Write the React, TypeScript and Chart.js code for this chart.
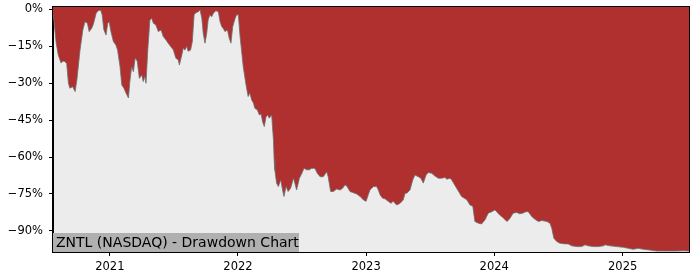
import React, { useEffect, useRef } from "react";
import { Chart, registerables } from "chart.js";

Chart.register(...registerables);

const dates: string[] = [
  "2020-07-23","2020-07-26","2020-08-01","2020-08-07","2020-08-15","2020-08-20","2020-08-26","2020-08-31",
  "2020-09-05","2020-09-09","2020-09-17","2020-09-24","2020-09-29","2020-10-08","2020-10-16","2020-10-22",
  "2020-10-29","2020-11-03","2020-11-10","2020-11-15","2020-11-23","2020-11-29","2020-12-06","2020-12-10",
  "2020-12-15","2020-12-21","2020-12-26","2020-12-30","2021-01-04","2021-01-11","2021-01-18","2021-01-23",
  "2021-01-30","2021-02-04","2021-02-10","2021-02-16","2021-02-23","2021-02-27","2021-03-04","2021-03-09",
  "2021-03-14","2021-03-20","2021-03-26","2021-04-02","2021-04-06","2021-04-11","2021-04-14","2021-04-19",
  "2021-04-25","2021-04-30","2021-05-05","2021-05-12","2021-05-19","2021-05-27","2021-06-02","2021-06-10",
  "2021-06-16","2021-06-23","2021-07-01","2021-07-08","2021-07-15","2021-07-18","2021-07-25","2021-07-29",
  "2021-08-03","2021-08-08","2021-08-12","2021-08-19","2021-08-24","2021-08-29","2021-09-03","2021-09-10",
  "2021-09-15","2021-09-20","2021-09-24","2021-09-29","2021-10-04","2021-10-08","2021-10-13","2021-10-18",
  "2021-10-23","2021-10-30","2021-11-06","2021-11-11","2021-11-16","2021-11-20","2021-11-25","2021-12-02",
  "2021-12-07","2021-12-12","2021-12-17","2021-12-24","2021-12-28","2022-01-02","2022-01-07","2022-01-12",
  "2022-01-16","2022-01-24","2022-01-30","2022-02-04","2022-02-09","2022-02-14","2022-02-18","2022-02-25",
  "2022-03-03","2022-03-08","2022-03-12","2022-03-17","2022-03-22","2022-03-27","2022-03-31","2022-04-07",
  "2022-04-12","2022-04-14","2022-04-16","2022-04-21","2022-04-26","2022-05-03","2022-05-08","2022-05-12",
  "2022-05-18","2022-05-24","2022-05-31","2022-06-08","2022-06-12","2022-06-17","2022-06-25","2022-07-02",
  "2022-07-08","2022-07-16","2022-07-23","2022-07-30","2022-08-08","2022-08-15","2022-08-23","2022-09-01",
  "2022-09-11","2022-09-15","2022-09-22","2022-09-30","2022-10-09","2022-10-19","2022-10-26","2022-11-02",
  "2022-11-08","2022-11-16","2022-11-26","2022-12-05","2022-12-15","2022-12-24","2023-01-01","2023-01-07",
  "2023-01-12","2023-01-17","2023-01-22","2023-01-31","2023-02-05","2023-02-10","2023-02-17","2023-02-24",
  "2023-03-05","2023-03-13","2023-03-19","2023-03-29","2023-04-08","2023-04-17","2023-04-22","2023-04-27",
  "2023-05-06","2023-05-14","2023-05-20","2023-05-30","2023-06-06","2023-06-13","2023-06-21","2023-06-27",
  "2023-07-07","2023-07-16","2023-07-26","2023-08-04","2023-08-14","2023-08-19","2023-08-28","2023-09-02",
  "2023-09-16","2023-09-30","2023-10-15","2023-10-24","2023-11-01","2023-11-07","2023-11-17","2023-11-26",
  "2023-12-06","2023-12-15","2023-12-25","2024-01-03","2024-01-08","2024-01-16","2024-01-25","2024-02-01",
  "2024-02-07","2024-02-15","2024-02-24","2024-03-05","2024-03-14","2024-03-22","2024-04-01","2024-04-07",
  "2024-04-17","2024-04-26","2024-05-06","2024-05-16","2024-05-30","2024-06-08","2024-06-13","2024-06-19",
  "2024-06-27","2024-07-06","2024-07-21","2024-07-30","2024-08-09","2024-08-23","2024-09-06","2024-09-16",
  "2024-09-25","2024-10-09","2024-10-24","2024-11-07","2024-11-12","2024-11-26","2024-12-15","2025-01-03",
  "2025-01-17","2025-01-31","2025-02-14","2025-03-01","2025-03-19","2025-04-08","2025-05-06","2025-06-04",
  "2025-06-23","2025-07-09",
];

const drawdown: number[] = [
  -2, -5, -13.6, -18.5, -21.8, -21, -21.2, -22,
  -30, -32, -31.4, -33.4, -28.7, -16.5, -8.3, -5,
  -5.6, -9, -7.7, -6, -1.5, -0.5, -0.3, -2.2,
  -8.3, -10.4, -5.6, -5, -9, -13, -14.4, -16.5,
  -23.3, -30.7, -32, -34, -36, -29.3, -23.3, -25.3,
  -19.8, -21, -28, -26.6, -29.3, -27.3, -30, -16.5,
  -4.3, -3.6, -5.6, -6.3, -9, -8.3, -11, -12.4,
  -13.7, -15, -16.5, -19.8, -20.5, -22.6, -18.5, -15.8,
  -16.5, -15, -17, -16.5, -13, -2.2, -1.3, -0.9,
  -0.2, -3.6, -9.7, -13.7, -9.7, -4.3, -2.2, -3,
  -1.5, -0.5, -0.9, -5, -7, -7.7, -9, -8.3,
  -11.7, -13.7, -7, -3.6, -2.2, -2.2, -11, -17.8,
  -23.3, -30.7, -35.4, -34, -36.8, -38, -40.2, -40.8,
  -42.9, -42.5, -45.6, -47.6, -43.6, -42.9, -44.2, -42.9,
  -53, -61, -65.2, -70.6, -72, -69.3, -73.4, -76,
  -72, -74, -72.7, -68.6, -70.6, -73.4, -68.6, -66.6,
  -64.6, -65.2, -65.2, -64.6, -64.6, -66.6, -68, -68,
  -66, -68, -74, -74, -73, -73.4, -72.7, -71.3,
  -72, -74, -74.5, -75, -76, -77.4, -78, -75.4,
  -73.4, -72.7, -72, -72, -73.4, -75.4, -76.7, -77,
  -78, -78.8, -78, -79.5, -78.8, -77.4, -74.7, -74.7,
  -73.4, -69.3, -67.3, -68, -68.6, -70.6, -67.3, -66.3,
  -66.6, -67.7, -68.6, -68.6, -68.3, -69, -68.6, -69.3,
  -72.7, -76, -77.4, -79.5, -80, -86.2, -86.9, -87.2,
  -85.5, -82.8, -82.2, -81.5, -82.2, -83.5, -84.5, -85.5,
  -86.2, -84.9, -82.8, -82.5, -83.1, -82.8, -82.2, -82.2,
  -84.2, -85.3, -86.2, -85.8, -86.2, -86.9, -88.9, -93,
  -94.3, -95, -95.3, -95.3, -96.1, -96.4, -96.4, -95.7,
  -96.1, -96.4, -96.4, -96.1, -95.7, -96.1, -96.4, -96.7,
  -97.1, -97.5, -97.1, -97.5, -97.8, -98.2, -98.2, -98.2,
  -98.1, -98.2,
];

const yTicks: number[] = [0, -15, -30, -45, -60, -75, -90];
const xTickYears: number[] = [2021, 2022, 2023, 2024, 2025];
const xStart = "2020-07-23";
const xEnd = "2025-07-09";
const yMin = -98.6;
const yMax = 1.0;
const labelText = "ZNTL (NASDAQ) - Drawdown Chart";

const toMs = (d: string) => Date.parse(d + "T00:00:00Z");

export default function App() {
  const ref = useRef<HTMLCanvasElement | null>(null);

  useEffect(() => {
    if (!ref.current) return;
    const points = dates.map((d, i) => ({ x: toMs(d), y: drawdown[i] }));
    const tickFont = { family: "DejaVu Sans", size: 11.5 };

    const framePlugin = {
      id: "frame",
      beforeDraw(chart: any) {
        const { ctx, chartArea: a } = chart;
        ctx.save();
        ctx.fillStyle = "#ececec";
        ctx.fillRect(a.left, a.top, a.right - a.left, a.bottom - a.top);
        ctx.restore();
      },
      afterDraw(chart: any) {
        const { ctx, chartArea: a } = chart;
        ctx.save();
        ctx.fillStyle = "#b0b0b0";
        ctx.fillRect(a.left, a.bottom - 19, 246, 19);
        ctx.fillStyle = "#000";
        ctx.font = "14px 'DejaVu Sans'";
        ctx.textBaseline = "alphabetic";
        ctx.textAlign = "left";
        ctx.fillText(labelText, a.left + 3, a.bottom - 4.7);
        ctx.strokeStyle = "#000";
        ctx.lineWidth = 1;
        ctx.strokeRect(
          Math.round(a.left) - 0.5,
          Math.round(a.top) - 0.5,
          Math.round(a.right - a.left) + 1,
          Math.round(a.bottom - a.top) + 1
        );
        ctx.restore();
      },
    };

    const chart = new Chart(ref.current, {
      type: "line",
      data: {
        datasets: [
          {
            data: points,
            borderColor: "rgba(110,110,110,0.8)",
            borderWidth: 1,
            pointRadius: 0,
            fill: "end",
            backgroundColor: "#b03030",
            tension: 0,
          },
        ],
      },
      options: {
        animation: false,
        responsive: false,
        devicePixelRatio: 1,
        layout: { padding: { top: 7, right: 11, left: 0, bottom: 0 } },
        plugins: { legend: { display: false }, tooltip: { enabled: false } },
        scales: {
          x: {
            type: "linear",
            min: toMs(xStart),
            max: toMs(xEnd),
            grid: { drawOnChartArea: false, drawTicks: true, tickLength: 4, color: "#000" },
            border: { display: true, color: "#000", width: 1 },
            ticks: {
              color: "#000",
              font: tickFont,
              padding: 4,
              maxRotation: 0,
              autoSkip: false,
              callback: (v: any) => String(new Date(Number(v)).getUTCFullYear()),
            },
            afterBuildTicks: (s: any) => {
              s.ticks = xTickYears.map((y) => ({ value: Date.UTC(y, 0, 1) }));
            },
            afterFit: (s: any) => {
              s.height = 28;
              s.paddingLeft = 0;
              s.paddingRight = 0;
              s.paddingTop = 0;
              s.paddingBottom = 0;
            },
          },
          y: {
            min: yMin,
            max: yMax,
            grid: { drawOnChartArea: false, drawTicks: true, tickLength: 4, color: "#000" },
            border: { display: true, color: "#000", width: 1 },
            ticks: {
              color: "#000",
              font: tickFont,
              padding: 6,
              autoSkip: false,
              callback: (v: any) => (Number(v) < 0 ? "\u2212" + Math.abs(Number(v)) : String(v)) + "%",
            },
            afterBuildTicks: (s: any) => {
              s.ticks = yTicks.map((v) => ({ value: v }));
            },
            afterFit: (s: any) => {
              s.width = 53;
              s.paddingTop = 0;
              s.paddingBottom = 0;
              s.paddingLeft = 0;
              s.paddingRight = 0;
            },
          },
        },
      },
      plugins: [framePlugin],
    } as any);
    return () => chart.destroy();
  }, []);

  return (
    <div style={{ position: "absolute", left: 0, top: 0, width: 700, height: 280, background: "#fff" }}>
      <canvas ref={ref} width={700} height={280} style={{ width: 700, height: 280, display: "block" }} />
    </div>
  );
}
